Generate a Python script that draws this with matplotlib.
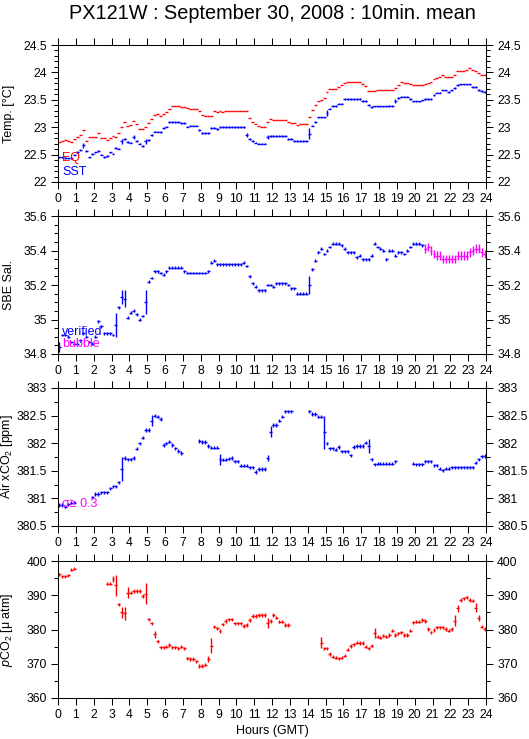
import matplotlib
matplotlib.use("Agg")
import matplotlib.pyplot as plt
import numpy as np
from matplotlib.ticker import MultipleLocator, FormatStrFormatter

plt.rcParams["font.family"] = ["Liberation Sans", "DejaVu Sans"]
plt.rcParams["mathtext.fontset"] = "custom"
plt.rcParams["mathtext.rm"] = "Liberation Sans"
plt.rcParams["mathtext.it"] = "Liberation Sans:italic"

nan = np.nan

# 10 minute means, one row per hour (GMT)
eq_temp = [
    22.73, 22.75, 22.76, 22.74, 22.73, 22.78,
    22.82, 22.85, 22.94, 22.75, 22.82, 22.82,
    22.82, 22.89, 22.80, 22.80, 22.77, 22.81,
    22.84, 22.82, 22.90, 23.01, 23.09, 23.03,
    23.04, 23.11, 23.06, 22.97, 22.96, 23.00,
    23.07, 23.15, 23.22, 23.24, 23.21, 23.24,
    23.28, 23.33, 23.39, 23.39, 23.38, 23.37,
    23.37, 23.35, 23.33, 23.33, 23.33, 23.29,
    23.22, 23.21, 23.21, 23.21, 23.29, 23.27,
    23.29, 23.28, 23.30, 23.30, 23.30, 23.30,
    23.30, 23.30, 23.30, 23.29, 23.16, 23.10,
    23.05, 23.03, 23.00, 23.00, 23.09, 23.15,
    23.13, 23.13, 23.13, 23.13, 23.13, 23.09,
    23.08, 23.07, 23.04, 23.06, 23.06, 23.06,
    23.18, 23.31, 23.41, 23.47, 23.49, 23.53,
    23.64, 23.69, 23.69, 23.69, 23.74, 23.77,
    23.80, 23.82, 23.82, 23.82, 23.82, 23.82,
    23.78, 23.76, 23.66, 23.66, 23.66, 23.67,
    23.67, 23.68, 23.68, 23.68, 23.68, 23.72,
    23.77, 23.82, 23.80, 23.80, 23.78, 23.77,
    23.77, 23.77, 23.77, 23.78, 23.80, 23.83,
    23.88, 23.90, 23.92, 23.95, 23.91, 23.91,
    23.91, 23.96, 24.03, 24.03, 24.03, 24.05,
    24.08, 24.05, 24.02, 23.99, 23.95, 23.95,
]

sst = [
    22.45, 22.45, 22.44, 22.43, 22.43, 22.50,
    22.55, 22.58, 22.67, 22.56, 22.45, 22.51,
    22.54, 22.57, 22.50, 22.46, 22.48, 22.54,
    22.52, 22.62, 22.61, 22.74, 22.79, 22.73,
    22.72, 22.82, 22.75, 22.70, 22.66, 22.74,
    22.77, 22.86, 22.92, 22.92, 22.91, 22.98,
    23.01, 23.10, 23.10, 23.10, 23.09, 23.08,
    23.08, 23.01, 23.03, 23.03, 23.03, 22.95,
    22.90, 22.90, 22.90, 22.98, 22.98, 22.97,
    23.00, 23.00, 23.00, 23.00, 23.00, 23.00,
    23.00, 23.00, 23.00, 22.86, 22.79, 22.75,
    22.72, 22.70, 22.70, 22.70, 22.82, 22.84,
    22.84, 22.84, 22.84, 22.84, 22.84, 22.78,
    22.78, 22.75, 22.75, 22.75, 22.75, 22.75,
    22.88, 23.03, 23.10, 23.18, 23.18, 23.18,
    23.26, 23.34, 23.39, 23.39, 23.43, 23.43,
    23.51, 23.51, 23.51, 23.51, 23.51, 23.51,
    23.48, 23.48, 23.41, 23.37, 23.38, 23.38,
    23.38, 23.38, 23.38, 23.39, 23.39, 23.48,
    23.53, 23.56, 23.56, 23.56, 23.51, 23.47,
    23.47, 23.47, 23.49, 23.51, 23.51, 23.51,
    23.59, 23.63, 23.63, 23.67, 23.67, 23.64,
    23.67, 23.71, 23.77, 23.78, 23.78, 23.78,
    23.78, 23.73, 23.73, 23.68, 23.66, 23.64,
]
sst_err_base = 0.015
sst_err_big = {8: 0.05, 21: 0.04, 25: 0.03, 29: 0.04, 63: 0.03, 70: 0.03,
               84: 0.10, 90: 0.05, 113: 0.03}

salinity = [
    34.84, 34.91, 34.91, 34.90, 34.87, 34.86,
    34.86, 34.88, 34.92, 34.90, 34.87, 34.86,
    34.90, 34.99, 34.96, 34.92, 34.92, 34.92,
    34.91, 34.97, 35.07, 35.13, 35.12, 35.01,
    35.04, 35.05, 35.03, 35.00, 35.02, 35.10,
    35.22, 35.24, 35.28, 35.28, 35.27, 35.26,
    35.28, 35.30, 35.30, 35.30, 35.30, 35.30,
    35.28, 35.27, 35.27, 35.27, 35.27, 35.27,
    35.27, 35.27, 35.28, 35.33, 35.34, 35.32,
    35.32, 35.32, 35.32, 35.32, 35.32, 35.32,
    35.32, 35.32, 35.33, 35.31, 35.25, 35.21,
    35.19, 35.17, 35.17, 35.17, 35.20, 35.20,
    35.19, 35.21, 35.21, 35.21, 35.21, 35.20,
    35.18, 35.18, 35.15, 35.15, 35.15, 35.15,
    35.20, 35.29, 35.34, 35.39, 35.41, 35.38,
    35.40, 35.42, 35.44, 35.44, 35.44, 35.43,
    35.41, 35.39, 35.39, 35.39, 35.36, 35.37,
    35.35, 35.35, 35.35, 35.37, 35.44, 35.42,
    35.41, 35.40, 35.35, 35.40, 35.40, 35.37,
    35.39, 35.39, 35.38, 35.40, 35.42, 35.44,
    35.44, 35.44, 35.43, 35.41, 35.42, 35.40,
    35.38, 35.37, 35.37, 35.35, 35.35, 35.35,
    35.35, 35.35, 35.37, 35.37, 35.37, 35.37,
    35.39, 35.40, 35.41, 35.41, 35.39, 35.38,
]
sal_bubble_start = 123  # first 10-min slot flagged as bubble
sal_err_base = 0.008
sal_err_bubble = 0.025
sal_err_big = {0: 0.03, 19: 0.07, 21: 0.04, 22: 0.05, 29: 0.07, 84: 0.05}

air_xco2 = [
    380.88, 380.88, 380.85, 380.89, 380.92, 380.92,
    nan, nan, nan, nan, nan, 381.02,
    381.08, 381.08, 381.11, 381.11, 381.11, 381.18,
    381.22, 381.22, 381.29, 381.53, 381.73, 381.71,
    381.71, 381.73, 381.90, 382.00, 382.10, 382.24,
    382.24, 382.41, 382.50, 382.48, 382.44, 381.97,
    382.00, 382.03, 381.97, 381.91, 381.86, 381.82,
    nan, nan, nan, nan, nan, 382.04,
    382.02, 382.02, 381.95, 381.92, 381.92, 381.92,
    381.71, 381.70, 381.70, 381.72, 381.73, 381.67,
    381.67, 381.59, 381.59, 381.59, 381.56, 381.56,
    381.48, 381.53, 381.53, 381.53, 381.73, 382.21,
    382.33, 382.33, 382.41, 382.48, 382.58, 382.58,
    382.58, nan, nan, nan, nan, nan,
    382.58, 382.53, 382.53, 382.48, 382.48, 382.20,
    382.00, 381.91, 381.91, 381.88, 381.93, 381.85,
    381.85, 381.85, 381.78, 381.93, 381.95, 381.95,
    381.95, 382.01, 381.95, 381.71, 381.62, 381.63,
    381.63, 381.63, 381.63, 381.63, 381.63, 381.67,
    nan, nan, nan, nan, nan, 381.63,
    381.62, 381.62, 381.62, 381.67, 381.67, 381.67,
    381.60, 381.60, 381.54, 381.51, 381.54, 381.54,
    381.56, 381.56, 381.56, 381.56, 381.56, 381.56,
    381.56, 381.56, 381.65, 381.71, 381.76, 381.77,
]
xco2_err_base = 0.03
xco2_err_big = {21: 0.22, 31: 0.10, 54: 0.10, 70: 0.06, 71: 0.10, 89: 0.30, 104: 0.12}

pco2 = [
    396.1, 395.5, 395.5, 395.8, 397.5, 397.8,
    nan, nan, nan, nan, nan, nan,
    nan, nan, nan, nan, 393.4, 393.4,
    394.7, 392.9, 387.3, 385.0, 384.7, 390.8,
    390.8, 391.3, 391.3, 391.3, 389.8, 390.5,
    383.0, 381.8, 378.6, 376.5, 374.8, 374.8,
    375.0, 375.5, 374.8, 374.8, 374.5, 375.0,
    374.5, 371.6, 371.4, 371.4, 370.7, 369.4,
    369.4, 369.7, 371.4, 375.2, 380.8, 380.3,
    379.6, 381.5, 382.5, 383.0, 383.0, 381.8,
    381.8, 381.8, 381.0, 381.3, 382.8, 383.9,
    383.9, 384.2, 384.2, 384.2, 381.8, 382.5,
    384.2, 383.5, 382.3, 382.3, 381.3, 381.3,
    nan, nan, nan, nan, nan, nan,
    nan, nan, nan, nan, 376.2, 374.5,
    374.5, 372.8, 372.1, 371.8, 371.6, 371.8,
    372.4, 374.1, 375.2, 375.7, 376.2, 376.0,
    376.0, 375.0, 374.5, 375.3, 378.9, 377.9,
    377.6, 378.2, 377.9, 378.4, 379.7, 378.4,
    378.9, 379.2, 378.4, 378.4, 379.7, 382.1,
    382.3, 382.3, 382.8, 382.5, 380.1, 379.2,
    379.9, 380.6, 380.6, 380.6, 380.1, 379.7,
    380.1, 382.6, 386.2, 388.6, 389.1, 389.4,
    388.6, 388.4, 386.4, 383.3, 380.8, 380.1,
]
pco2_err_base = 0.5
pco2_err_big = {18: 0.8, 19: 3.0, 21: 1.5, 22: 2.0, 23: 1.5, 29: 3.0, 32: 1.0,
                50: 1.0, 51: 2.2, 70: 1.5, 88: 1.5, 106: 1.5, 133: 1.5,
                134: 1.0, 140: 1.2, 141: 0.8}

hour_ticks = list(range(25))

BLUE = "#0000ff"
RED = "#ff0000"
MAGENTA = "#ff00ff"


def err_array(n, base, big):
    e = np.full(n, base)
    for k, v in big.items():
        e[k] = v
    return e


def draw(ax, x, y, yerr, color):
    ax.errorbar(x, y, xerr=1 / 12, yerr=yerr, fmt="none", ecolor=color,
                elinewidth=1.0, capsize=0)


def style_axis(ax, ylim, major, minor, ylabel):
    ax.set_xlim(0, 24)
    ax.set_ylim(*ylim)
    ax.set_xticks(hour_ticks)
    ax.yaxis.set_major_locator(MultipleLocator(major))
    ax.yaxis.set_minor_locator(MultipleLocator(minor))
    ax.yaxis.set_major_formatter(FormatStrFormatter("%g"))
    ax.tick_params(which="both", direction="out", top=True, right=True,
                   labelright=True, labelsize=8.7, width=0.75, colors="black")
    ax.tick_params(which="major", length=5, pad=3)
    ax.tick_params(which="minor", length=3)
    for s in ax.spines.values():
        s.set_linewidth(0.75)
    ax.set_ylabel(ylabel, fontsize=9)
    ax.yaxis.set_label_coords(-0.1, 0.5)


hours = np.arange(144) / 6 + 1 / 12
n = len(hours)

fig = plt.figure(figsize=(5.29, 7.39), dpi=100)
W, H = 529, 739
left, right = 58, 486
panels = [(45, 182), (216, 354), (388, 526), (561, 698)]
axes = [fig.add_axes([left / W, 1 - b / H, (right - left) / W, (b - t) / H])
        for t, b in panels]

# Temperature
ax = axes[0]
draw(ax, hours, eq_temp, 0.0, RED)
draw(ax, hours, sst, err_array(n, sst_err_base, sst_err_big), BLUE)
style_axis(ax, (22, 24.5), 0.5, 0.1, "Temp. [°C]")
ax.text(0.01, 0.175, "EQ", color=RED, fontsize=9, transform=ax.transAxes, va="center")
ax.text(0.01, 0.073, "SST", color=BLUE, fontsize=9, transform=ax.transAxes, va="center")

# Salinity
ax = axes[1]
sal = np.array(salinity)
sal_err = err_array(n, sal_err_base, sal_err_big)
draw(ax, hours[:sal_bubble_start], sal[:sal_bubble_start], sal_err[:sal_bubble_start], BLUE)
draw(ax, hours[sal_bubble_start:], sal[sal_bubble_start:], sal_err_bubble, MAGENTA)
style_axis(ax, (34.8, 35.6), 0.2, 0.05, "SBE Sal.")
ax.text(0.01, 0.16, "verified", color=BLUE, fontsize=9, transform=ax.transAxes, va="center")
ax.text(0.01, 0.072, "bubble", color=MAGENTA, fontsize=9, transform=ax.transAxes, va="center")

# Atmospheric xCO2
ax = axes[2]
draw(ax, hours, air_xco2, err_array(n, xco2_err_base, xco2_err_big), BLUE)
style_axis(ax, (380.5, 383), 0.5, 0.25, "Air xCO$_2$ [ppm]")
ax.text(0.01, 0.16, "σ≥ 0.3", color=MAGENTA, fontsize=9, transform=ax.transAxes, va="center")

# Seawater pCO2
ax = axes[3]
draw(ax, hours, pco2, err_array(n, pco2_err_base, pco2_err_big), RED)
style_axis(ax, (360, 400), 10, 5, "$p$CO$_2$ [μ atm]")
ax.set_xlabel("Hours (GMT)", fontsize=9, labelpad=3)

fig.text(272 / W, 1 - 19 / H, "PX121W : September 30, 2008 : 10min. mean",
         ha="center", va="baseline", fontsize=14.3)

fig.savefig("out.png", dpi=100)
